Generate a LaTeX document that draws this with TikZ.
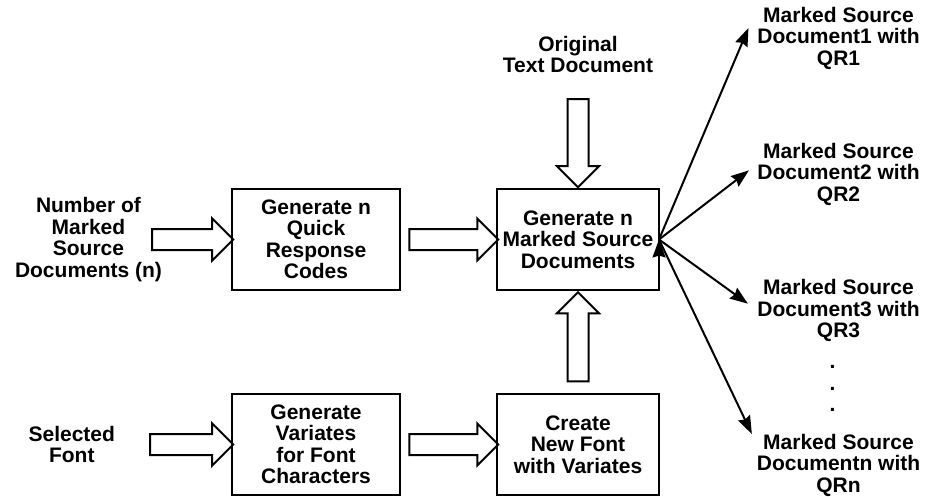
\documentclass[tikz,border=0pt]{standalone}
\usepackage{fontspec}
\setmainfont{Liberation Sans}
\usepackage{tikz}
\usetikzlibrary{positioning,arrows.meta,shapes.arrows}

\begin{document}
\begin{tikzpicture}[>={Stealth[length=18pt,width=13pt,inset=2pt]},
	font=\fontsize{21pt}{21.5pt}\selectfont\bfseries,
	box/.style={draw,line width=2.4pt,minimum width=168pt,minimum height=101pt,align=center,inner sep=0pt,outer sep=0pt},
	lbl/.style={align=center,inner sep=0pt,outer sep=0pt},
	hollow/.style={single arrow,draw,line width=2pt,inner sep=0pt,inner ysep=9.5pt,single arrow head extend=10.5pt,single arrow tip angle=90,minimum width=1pt,outer sep=0pt},
	outline/.style={->,line width=2pt}]
		\useasboundingbox (0,0) rectangle (925pt,-496pt);

		% blocks
		\node[box] (qr) at (316pt,-239.5pt) {Generate n\\Quick\\Response\\Codes};
		\node[box,minimum width=162pt] (mark) [right=97pt of qr] {Generate n\\Marked Source\\Documents};
		\node[box] (var) [below=104pt of qr] {Generate\\Variates\\for Font\\Characters};
		\node[box,minimum width=162pt] (font) [right=97pt of var] {Create\\New Font\\with Variates};

		% inputs
		\node[lbl] (num) [left=70pt of qr] {Number of\\Marked\\Source\\Documents (n)};
		\node[lbl] (sel) [left=117pt of var] {Selected\\Font};
		\node[lbl] (orig) [above=116pt of mark] {Original\\Text Document};

		% outputs
		\node[lbl] (d1) at (838.5pt,-38pt) {Marked Source\\Document1 with\\QR1};
		\node[lbl] (d2) [below=74pt of d1] {Marked Source\\Document2 with\\QR2};
		\node[lbl] (d3) [below=74pt of d2] {Marked Source\\Document3 with\\QR3};
		\node[lbl] (dots) [below=23.5pt of d3,xshift=-6pt] {.\\.\\.};
		\node[lbl] (dn) [below=22.5pt of dots,xshift=6pt] {Marked Source\\Documentn with\\QRn};

		% block arrows
		\path (num) -- node[hollow,minimum height=81pt,pos=0.364] {} (qr);
		\path (qr) -- node[hollow,minimum height=89pt] {} (mark);
		\path (sel) -- node[hollow,minimum height=83pt,pos=0.611] {} (var);
		\path (var) -- node[hollow,minimum height=89pt] {} (font);
		\path (orig) -- node[hollow,sloped,allow upside down,minimum height=88pt,pos=0.56] {} (mark);
		\path (font) -- node[hollow,sloped,allow upside down,minimum height=89pt] {} (mark);

		\draw[outline] (mark.east) edge ([xshift=-9pt,yshift=10pt]d1.west)
				(mark.east) edge ([xshift=-8.5pt,yshift=4pt]d2.west)
				(mark.east) edge ([xshift=-9.5pt,yshift=7pt]d3.west)
				(mark.east) edge ([xshift=-5pt]dn.north west);
\end{tikzpicture}
\end{document}
